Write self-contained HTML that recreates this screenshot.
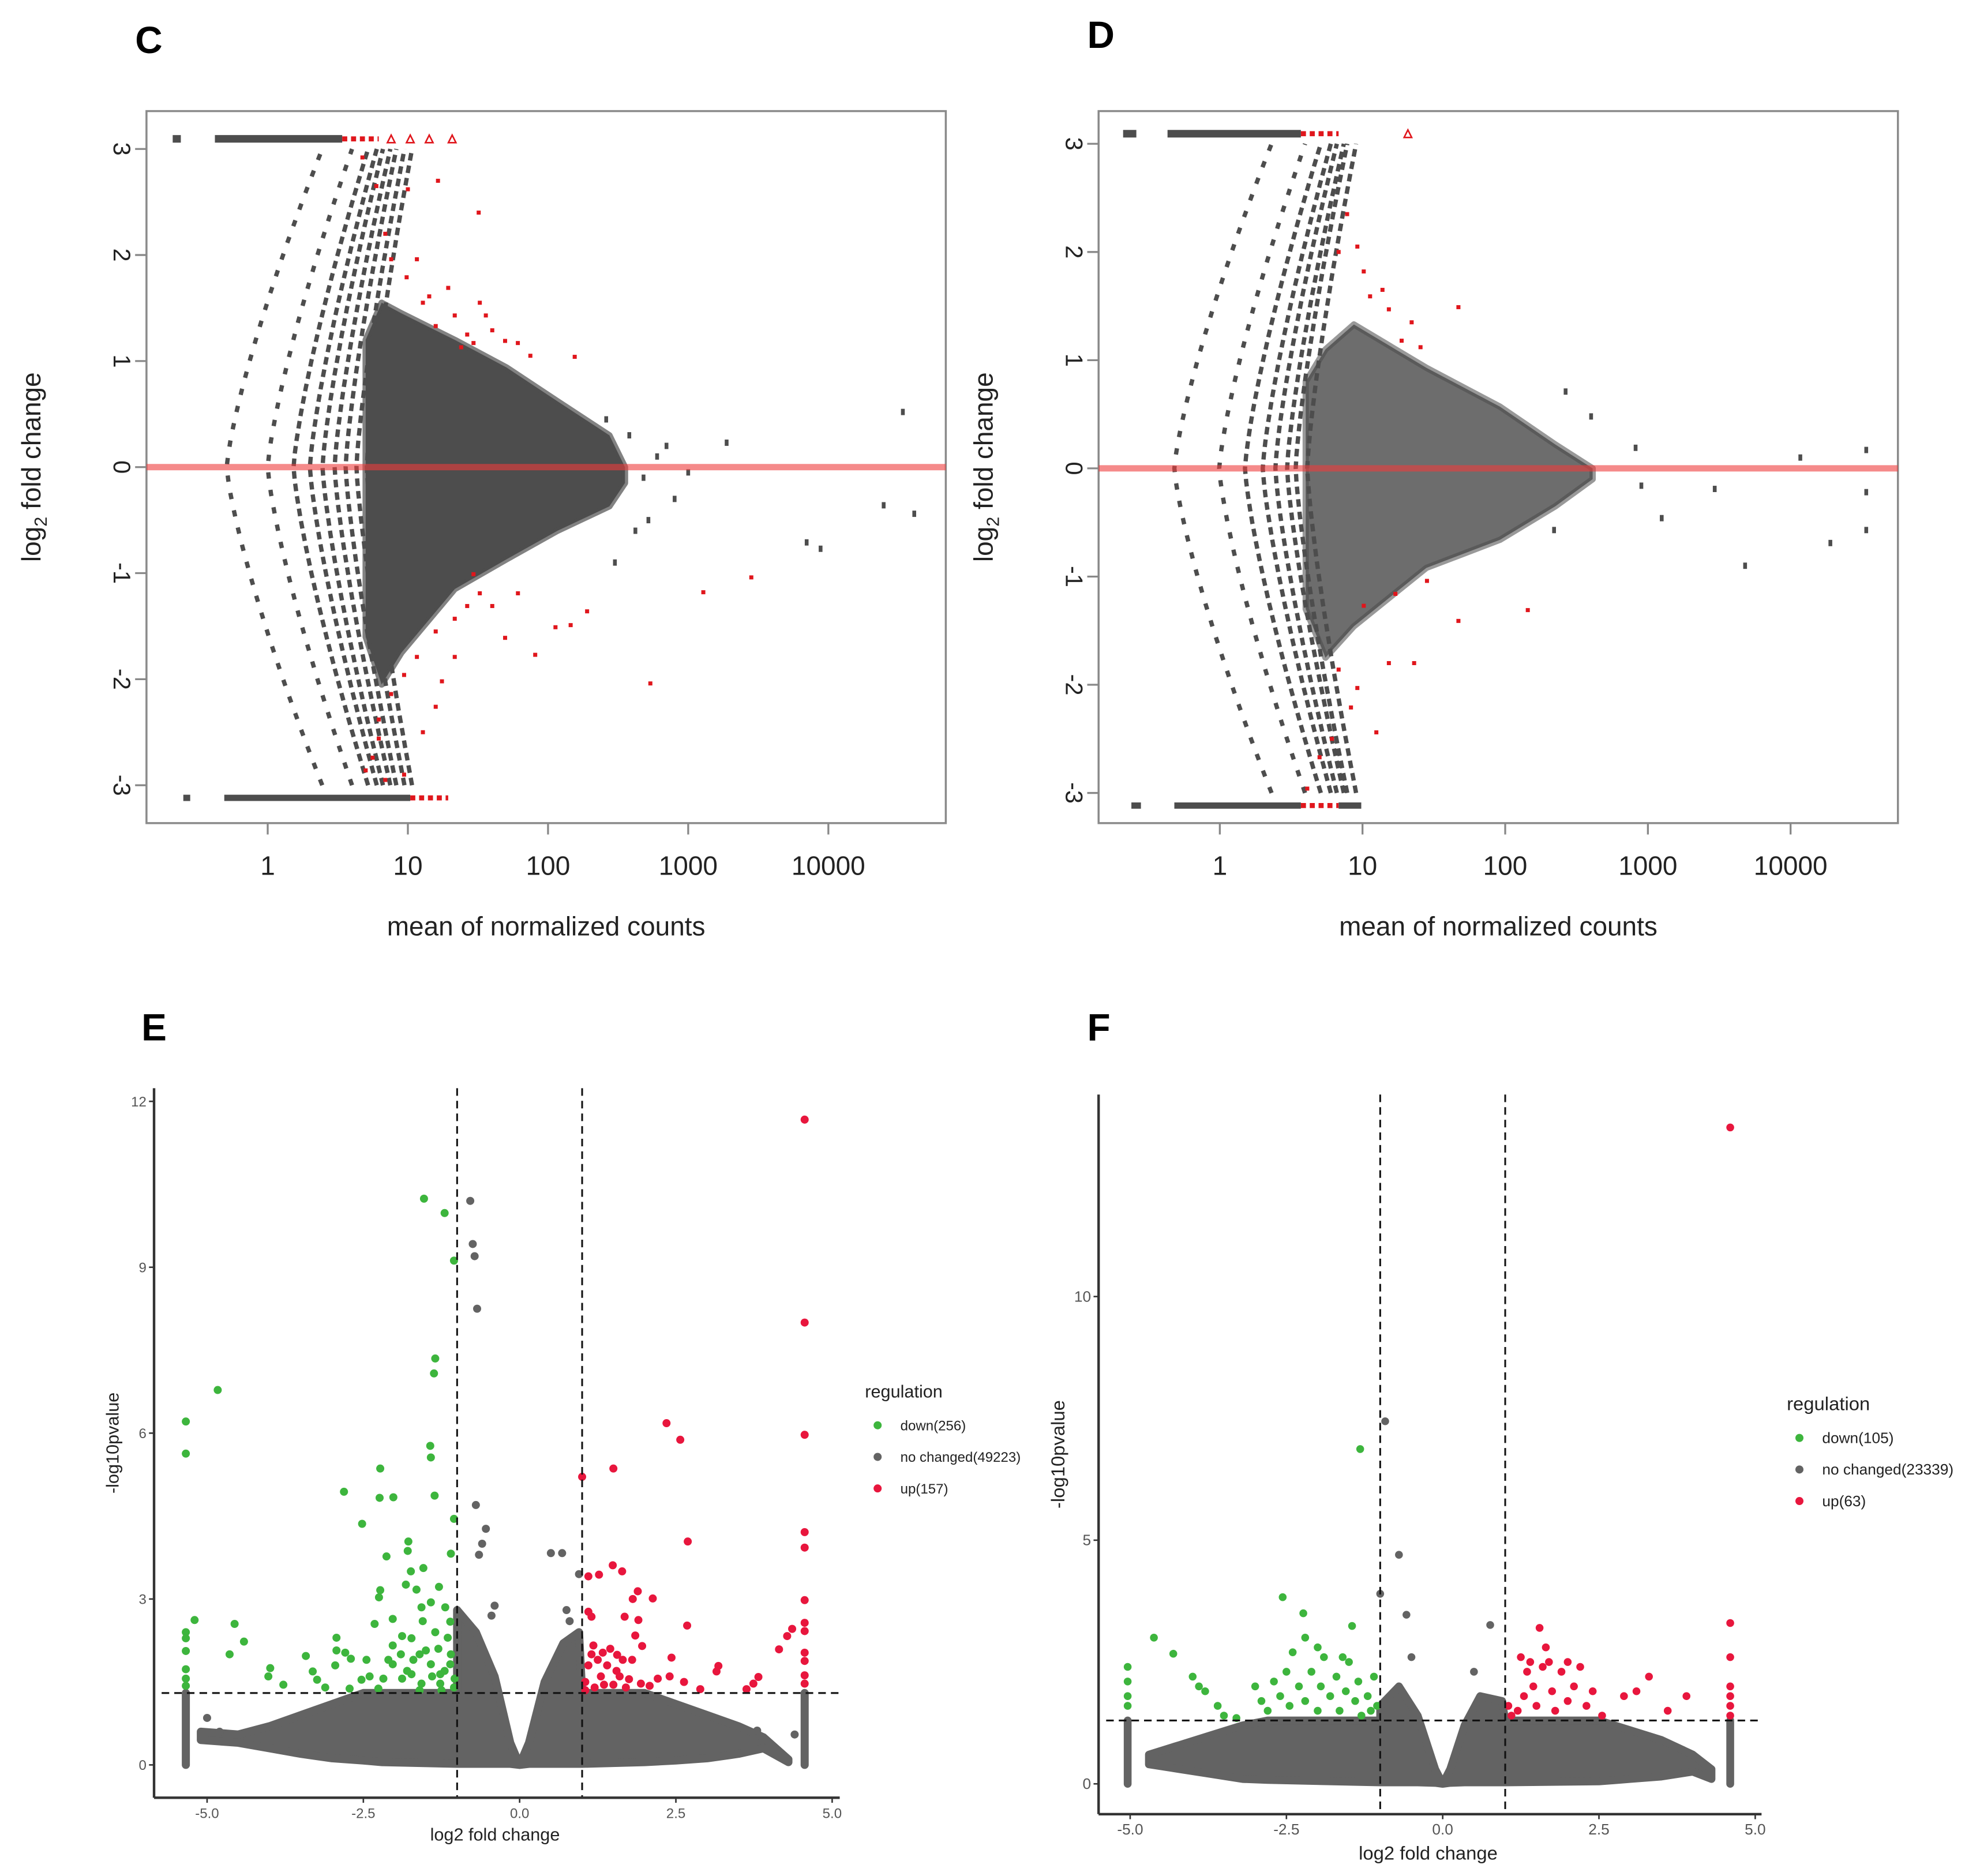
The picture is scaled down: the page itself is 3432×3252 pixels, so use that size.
<!DOCTYPE html>
<html><head><meta charset="utf-8"><style>
html,body{margin:0;padding:0;background:#fff;}
svg{display:block;}
text{font-family:"Liberation Sans",sans-serif;}
</style></head><body>
<svg id="fig" xmlns="http://www.w3.org/2000/svg" width="3432" height="3252" viewBox="0 0 1568 1486" preserveAspectRatio="none">
<rect width="1568" height="1486" fill="#fff"/>
<text x="107" y="42" font-size="30" font-weight="bold">C</text>
<text x="861" y="38" font-size="30" font-weight="bold">D</text>
<text x="112" y="824" font-size="30" font-weight="bold">E</text>
<text x="861" y="824" font-size="30" font-weight="bold">F</text>
<g id="pc"></g>
<g id="pd"></g>
<g id="pe"></g>
<g id="pf"></g>
</svg>
<script>
// ---------- MA plot C data ----------
const cEnvMean=[5.0,6.5,9,21.6,50.5,117,274,354];
const cEnvUp=[1.2,1.55,1.45,1.2,0.94,0.62,0.30,0.0];
const cEnvLow=[-1.6,-2.05,-1.75,-1.15,-0.87,-0.60,-0.37,-0.15];
const cStripes=[0.51,1.0,1.53,2.0,2.46,3.0,3.6,4.3,5.1];
const cStripeRatio=[4.8,4.0,3.4,3.0,2.7,2.5,2.3,2.2,2.1];
const cRedUpMean=[4.74,5.96,10,16.4,32,6.9,11.6,19.4,32.6,49.4,74.8,155,9.8,14.2,21.6,26.5,40,60.9,24,29.4,12.8,15.8,7.6,36];
const cRedUpLfc=[2.92,2.65,2.62,2.70,2.40,2.2,1.96,1.69,1.55,1.19,1.05,1.04,1.79,1.61,1.43,1.25,1.29,1.17,1.13,1.17,1.55,1.33,1.96,1.43];
const cRedLowMean=[537,1282,2820,190,145,81,113,49.4,32.6,26.5,21.6,15.8,11.6,9.4,7.6,6.2,6.2,5.6,5.0,6.9,9.4,15.8,21.6,40,61,29.4,17.5,12.8];
const cRedLowLfc=[-2.04,-1.18,-1.04,-1.36,-1.49,-1.77,-1.51,-1.61,-1.19,-1.31,-1.43,-1.55,-1.79,-1.96,-2.14,-2.38,-2.56,-2.74,-2.86,-2.95,-2.9,-2.26,-1.79,-1.31,-1.19,-1.01,-2.02,-2.5];
const cGreyMean=[34000,24800,41000,7000,8800,1880,1000,480,600,420,800,520,700,380,300,260];
const cGreyLfc=[0.52,-0.36,-0.44,-0.71,-0.77,0.23,-0.05,-0.1,0.1,-0.6,-0.3,-0.5,0.2,0.3,-0.9,0.45];
const cTopGrey=[[0.21,0.24],[0.42,3.4]], cTopRedSeg=[[3.4,6.2]], cTopRedPts=[7.6,10.4,14.2,20.7];
const cBotGrey=[[0.25,0.28],[0.49,10.4]], cBotRedSeg=[[10.4,19.4]];
const maXTicks=[1,10,100,1000,10000], maXTickLabels=["1","10","100","1000","10000"];
const maYTicks=[3,2,1,0,-1,-2,-3], maYTickLabels=["3","2","1","0","-1","-2","-3"];
// ---------- MA plot D data ----------
const dEnvMean=[4.0,5.5,8.7,28,92,225,410];
const dEnvUp=[0.8,1.1,1.33,0.93,0.57,0.22,0.0];
const dEnvLow=[-1.3,-1.75,-1.46,-0.92,-0.66,-0.35,-0.1];
const dStripes=[0.48,0.99,1.5,2.0,2.45,2.96,3.4,4.1];
const dStripeRatio=[4.8,4.0,3.4,3.0,2.7,2.5,2.3,2.2];
const dRedMean=[7.8,9.2,11.3,15.3,18.8,25.5,47,6.8,10.2,13.8,22.1,10.2,17,28.3,47,15.3,23,8.3,6.1,5.0,4.1,12.5,9.2,6.8,144];
const dRedLfc=[2.35,2.05,1.59,1.47,1.18,1.12,1.49,2.0,1.82,1.65,1.35,-1.27,-1.16,-1.04,-1.41,-1.8,-1.8,-2.21,-2.5,-2.67,-2.96,-2.44,-2.03,-1.86,-1.31];
const dGreyMean=[11700,33900,33900,19000,33900,4800,2940,1250,820,900,400,265,220];
const dGreyLfc=[0.1,0.17,-0.22,-0.69,-0.57,-0.9,-0.19,-0.46,0.19,-0.16,0.48,0.71,-0.57];
const dTopGrey=[[0.21,0.26],[0.43,3.7]], dTopRedSeg=[[3.7,6.8]], dTopRedPts=[20.8];
const dBotGrey=[[0.24,0.28],[0.48,3.7],[6.8,9.8]], dBotRedSeg=[[3.7,6.8]];
// ---------- Volcano E data ----------
const eEnvX=[-5.1,-4.5,-4,-3.5,-3,-2.5,-2.2,-1.0,-1.0,-0.7,-0.4,-0.15,0,0.15,0.4,0.7,0.95,1.0,2.0,2.5,3,3.5,3.9,4.3];
const eEnvUp=[0.6,0.55,0.7,0.9,1.1,1.3,1.3,1.3,2.8,2.4,1.6,0.4,0,0.4,1.5,2.2,2.4,1.3,1.3,1.1,0.9,0.7,0.5,0.1];
const eEnvLow=[0.45,0.4,0.3,0.2,0.12,0.08,0.05,0.02,0.02,0.02,0.02,0.02,0,0.02,0.02,0.02,0.02,0.02,0.05,0.08,0.12,0.2,0.3,0.05];
const eColX=[-5.34,4.56];
const eGreenX=[-1.53,-1.2,-1.05,-1.35,-1.37,-4.83,-5.34,-5.34,-1.43,-1.42,-2.23,-2.81,-2.24,-2.02,-1.36,-2.52,-1.05,-1.78,-1.79,-2.13,-1.1,-1.74,-1.54,-1.82,-2.23,-2.25,-1.65,-1.29,-5.2,-4.56,-4.41,-4.64,-5.34,-5.34,-5.34,-3.99,-4.02,-3.78,-3.42,-2.93,-2.93,-2.79,-2.7,-2.95,-3.31,-3.24,-3.11,-2.45,-2.53,-2.32,-2.03,-1.88,-1.73,-1.57,-1.42,-1.19,-1.11,-1.42,-1.27,-1.11,-1.73,-2.03,-2.18,-1.88,-1.57,-1.27,-1.04,-1.5,-2.03,-2.26,-2.72,-5.34,-5.34,-5.34,-1.6,-1.3,-1.15,-1.4,-1.7,-1.9,-1.2,-1.1,-1.35,-1.55,-1.8,-2.1,-2.4,-1.05,-1.25,-1.6];
const eGreenY=[10.24,9.98,9.12,7.35,7.08,6.78,6.21,5.63,5.77,5.56,5.36,4.94,4.83,4.84,4.87,4.36,4.45,4.04,3.87,3.77,3.82,3.5,3.56,3.26,3.16,3.03,3.17,3.22,2.62,2.55,2.23,2.0,2.4,2.29,2.06,1.75,1.6,1.45,1.97,2.3,2.07,2.03,1.92,1.8,1.69,1.54,1.4,1.9,1.54,2.55,2.64,2.33,2.29,2.85,2.94,2.85,2.59,1.82,1.64,1.82,1.64,1.82,1.56,1.56,1.47,1.47,1.56,2.07,2.16,1.38,1.38,1.73,1.56,1.43,2.0,2.1,2.3,1.6,1.9,2.0,1.7,2.0,2.4,2.6,1.7,1.9,1.6,1.4,1.35,1.35];
const eRedX=[4.56,4.56,4.56,2.35,2.57,1.5,1.0,4.56,4.56,2.69,1.49,1.64,1.27,1.1,1.89,2.13,1.81,4.56,1.1,1.15,1.68,1.9,2.68,4.56,4.56,4.36,4.28,4.15,1.85,1.96,2.43,4.56,4.56,4.56,4.56,3.18,3.15,3.82,3.74,3.63,2.89,2.63,2.4,2.21,2.08,1.94,1.8,1.56,1.33,1.18,1.05,1.1,1.2,1.3,1.4,1.5,1.6,1.7,1.25,1.45,1.15,1.35,1.55,1.75,1.05,1.65];
const eRedY=[11.67,8.0,5.97,6.18,5.88,5.36,5.21,4.21,3.93,4.04,3.61,3.5,3.44,3.41,3.14,3.01,3.0,2.98,2.77,2.68,2.68,2.62,2.52,2.57,2.42,2.46,2.33,2.09,2.34,2.15,1.94,2.03,1.88,1.62,1.47,1.79,1.69,1.59,1.47,1.37,1.37,1.5,1.6,1.56,1.43,1.47,1.9,1.99,2.03,2.16,1.5,1.8,1.4,1.6,1.8,1.45,1.6,1.4,1.9,2.1,2.0,1.45,1.7,1.55,1.35,1.9];
const eGreyX=[-0.79,-0.75,-0.72,-0.68,-0.7,-0.54,-0.6,-0.65,0.5,0.68,0.95,-0.45,-0.4,0.75,0.8,-5.0,-4.8,3.8,4.4];
const eGreyY=[10.2,9.42,9.2,8.25,4.7,4.27,4.0,3.8,3.83,3.83,3.45,2.7,2.88,2.8,2.6,0.85,0.6,0.62,0.55];
const eXTicks=[-5,-2.5,0,2.5,5], eXLabels=["-5.0","-2.5","0.0","2.5","5.0"];
const eYTicks=[0,3,6,9,12], eYLabels=["0","3","6","9","12"];
// ---------- Volcano F data ----------
const fEnvX=[-4.7,-4.2,-3.7,-3.2,-2.8,-1.0,-1.0,-0.7,-0.4,-0.12,0,0.12,0.35,0.6,0.95,1.0,2.5,3.0,3.5,4.0,4.3];
const fEnvUp=[0.6,0.8,1.0,1.2,1.3,1.3,1.6,2.0,1.4,0.3,0,0.3,1.2,1.8,1.7,1.3,1.3,1.1,0.9,0.6,0.3];
const fEnvLow=[0.4,0.3,0.2,0.1,0.08,0.03,0.03,0.03,0.03,0.02,0,0.02,0.03,0.03,0.03,0.03,0.05,0.1,0.15,0.25,0.1];
const fColX=[-5.04,4.6];
const fGreenX=[-1.32,-2.56,-2.23,-1.45,-4.62,-4.31,-5.04,-5.04,-5.04,-5.04,-2.2,-4.0,-3.9,-3.8,-3.6,-3.5,-3.3,-3.0,-2.9,-2.8,-2.7,-2.6,-2.5,-2.45,-2.3,-2.2,-2.1,-2.0,-1.95,-1.9,-1.8,-1.7,-1.65,-1.55,-1.5,-1.4,-1.35,-1.3,-1.2,-1.15,-1.1,-1.05,-2.4,-2.0,-1.6];
const fGreenY=[6.87,3.83,3.5,3.24,3.0,2.67,2.4,2.1,1.8,1.6,3.0,2.2,2.0,1.9,1.6,1.4,1.35,2.0,1.7,1.5,2.1,1.8,2.3,1.6,2.0,1.7,2.3,1.5,2.0,2.6,1.8,2.2,1.5,1.9,2.5,1.7,2.1,1.4,1.8,1.5,2.2,1.6,2.7,2.8,2.6];
const fRedX=[4.6,1.2,1.3,1.35,1.45,1.5,1.6,1.65,1.75,1.8,1.9,2.0,2.1,2.2,2.3,2.4,1.55,1.1,1.05,1.25,1.4,2.55,2.9,3.1,3.3,3.6,3.9,4.6,4.6,4.6,4.6,4.6,4.6,1.7,2.0];
const fRedY=[13.47,1.5,1.8,2.3,2.0,1.6,2.4,2.8,1.9,1.5,2.3,1.7,2.0,2.4,1.6,1.9,3.2,1.4,1.6,2.6,2.5,1.4,1.8,1.9,2.2,1.5,1.8,3.3,2.6,2.0,1.8,1.6,1.4,2.5,2.5];
const fGreyX=[-0.92,-0.7,-0.58,-1.0,0.76,-0.5,0.5];
const fGreyY=[7.44,4.7,3.47,3.9,3.26,2.6,2.3];
const fXTicks=[-5,-2.5,0,2.5,5], fXLabels=["-5.0","-2.5","0.0","2.5","5.0"];
const fYTicks=[0,5,10], fYLabels=["0","5","10"];

const NS="http://www.w3.org/2000/svg";
function mk(parent,tag,attrs){const e=document.createElementNS(NS,tag);for(const k in attrs)e.setAttribute(k,attrs[k]);parent.appendChild(e);return e;}
function txt(parent,x,y,s,size,anchor,rot){const e=mk(parent,'text',{x:x,y:y,'font-size':size,'text-anchor':anchor||'middle',fill:'#222'});if(rot)e.setAttribute('transform','rotate('+rot+' '+x+' '+y+')');e.textContent=s;return e;}

function drawMA(g,box,X,Y,env,stripes,ratios,redM,redL,greyM,greyL,rows,massOpacity){
  const grey='#4d4d4d', red='#e0161c';
  const r=mk(g,'rect',{x:box[0],y:box[1],width:box[2],height:box[3],fill:'none',stroke:'#8a8a8a','stroke-width':1.6});
  
  
  stripes.forEach((v,si)=>{
    let pts=[];
    for(let i=-24;i<=24;i++){const l=i/8;const m=v*Math.pow(ratios[si],Math.pow(Math.abs(l)/3,1.3));pts.push(X(m).toFixed(1)+','+Y(l).toFixed(1));}
    const p=mk(g,'polyline',{points:pts.join(' '),fill:'none',stroke:grey,'stroke-width':3.4,'stroke-dasharray':si<2?'5 9':'6 4'});
    
    
  });
  let pts=[];
  env[0].forEach((m,i)=>pts.push(X(m)+','+Y(env[1][i])));
  for(let i=env[0].length-1;i>=0;i--)pts.push(X(env[0][i])+','+Y(env[2][i]));
  const poly=mk(g,'polygon',{points:pts.join(' '),fill:grey,'fill-opacity':massOpacity,stroke:grey,'stroke-opacity':massOpacity*0.7,'stroke-width':5,'stroke-linejoin':'round'});
  
  
  greyM.forEach((m,i)=>{const e=mk(g,'rect',{x:X(m)-1.5,y:Y(greyL[i])-2.5,width:3,height:5,fill:grey});
    
    });
  redM.forEach((m,i)=>{const e=mk(g,'rect',{x:X(m)-1.6,y:Y(redL[i])-1.6,width:3.2,height:3.2,fill:red});
    
    });
  const yt=Y(3)-8, yb=Y(-3)+10;
  rows.topGrey.forEach(s=>{const e=mk(g,'line',{x1:X(s[0]),x2:X(s[1]),y1:yt,y2:yt,stroke:grey,'stroke-width':6});
    
    });
  rows.topRed.forEach(s=>{const e=mk(g,'line',{x1:X(s[0]),x2:X(s[1]),y1:yt,y2:yt,stroke:red,'stroke-width':4,'stroke-dasharray':'4 3'});
    
    });
  rows.topRedPts.forEach(m=>{const e=mk(g,'polygon',{points:(X(m)-3)+','+(yt+3)+' '+(X(m)+3)+','+(yt+3)+' '+X(m)+','+(yt-3),fill:'none',stroke:red,'stroke-width':1.2});
    
    });
  rows.botGrey.forEach(s=>{const e=mk(g,'line',{x1:X(s[0]),x2:X(s[1]),y1:yb,y2:yb,stroke:grey,'stroke-width':5});
    
    });
  rows.botRed.forEach(s=>{const e=mk(g,'line',{x1:X(s[0]),x2:X(s[1]),y1:yb,y2:yb,stroke:red,'stroke-width':4,'stroke-dasharray':'4 3'});
    
    });
  const zl=mk(g,'line',{x1:box[0],x2:box[0]+box[2],y1:Y(0),y2:Y(0),stroke:'rgba(238,60,60,0.6)','stroke-width':5});
  
  
  const by=box[1]+box[3];
  maXTicks.forEach((t,i)=>{const tk=mk(g,'line',{x1:X(t),x2:X(t),y1:by,y2:by+9,stroke:'#888','stroke-width':1.5});
    
    
    const l=txt(g,X(t),by+41,maXTickLabels[i],21);
    
    });
  maYTicks.forEach((t,i)=>{const tk=mk(g,'line',{x1:box[0]-9,x2:box[0],y1:Y(t),y2:Y(t),stroke:'#888','stroke-width':1.5});
    
    
    const l=txt(g,box[0]-26,Y(t),maYTickLabels[i],19,'middle',90);
    
    });
  const xt=txt(g,box[0]+box[2]/2,by+89,'mean of normalized counts',21);
  
  
  const ya=mk(g,'text',{x:box[0]-84,y:box[1]+282,'font-size':21,'text-anchor':'middle',fill:'#222',transform:'rotate(-90 '+(box[0]-84)+' '+(box[1]+282)+')'});
  ya.innerHTML='log<tspan font-size="14" dy="5">2</tspan><tspan dy="-5"> fold change</tspan>';
  
  
}
const Xc=m=>212+111*Math.log10(m), Yc=l=>370-84*l;
drawMA(document.getElementById('pc'),[116,88,633,564],Xc,Yc,[cEnvMean,cEnvUp,cEnvLow],cStripes,cStripeRatio,
  cRedUpMean.concat(cRedLowMean),cRedUpLfc.concat(cRedLowLfc),cGreyMean,cGreyLfc,
  {topGrey:cTopGrey,topRed:cTopRedSeg,topRedPts:cTopRedPts,botGrey:cBotGrey,botRed:cBotRedSeg},1);
const Xd=m=>966+113*Math.log10(m), Yd=l=>371-85.7*l;
drawMA(document.getElementById('pd'),[870,88,633,564],Xd,Yd,[dEnvMean,dEnvUp,dEnvLow],dStripes,dStripeRatio,
  dRedMean,dRedLfc,dGreyMean,dGreyLfc,
  {topGrey:dTopGrey,topRed:dTopRedSeg,topRedPts:dTopRedPts,botGrey:dBotGrey,botRed:dBotRedSeg},0.82);

function drawVolcano(g,X,Y,ax,env,cols,gx,gy,rx,ry,ox,oy,ticks,counts,leg,fs,rad){
  const grey='#636363', green='#3db53d', red='#e8163d';
  let pts=[];
  env[0].forEach((x,i)=>pts.push(X(x)+','+Y(env[1][i])));
  for(let i=env[0].length-1;i>=0;i--)pts.push(X(env[0][i])+','+Y(env[2][i]));
  const poly=mk(g,'polygon',{points:pts.join(' '),fill:grey,stroke:grey,'stroke-width':rad*2,'stroke-linejoin':'round'});
  
  
  cols.forEach(c=>{const e=mk(g,'line',{x1:X(c),x2:X(c),y1:Y(0),y2:Y(1.3),stroke:grey,'stroke-width':rad*2,'stroke-linecap':'round'});
    
    });
  ox.forEach((x,i)=>{const e=mk(g,'circle',{cx:X(x),cy:Y(oy[i]),r:rad,fill:grey});
    
    });
  gx.forEach((x,i)=>{const e=mk(g,'circle',{cx:X(x),cy:Y(gy[i]),r:rad,fill:green});
    
    });
  rx.forEach((x,i)=>{const e=mk(g,'circle',{cx:X(x),cy:Y(ry[i]),r:rad,fill:red});
    
    });
  [-1,1].forEach(v=>{const e=mk(g,'line',{x1:X(v),x2:X(v),y1:ax.top,y2:ax.bottom,stroke:'#111','stroke-width':1.4,'stroke-dasharray':'6 4'});
    
    });
  const h=mk(g,'line',{x1:ax.left+6,x2:ax.right,y1:Y(1.3),y2:Y(1.3),stroke:'#111','stroke-width':1.4,'stroke-dasharray':'6 4'});
  
  
  const la=mk(g,'line',{x1:ax.left,x2:ax.left,y1:ax.top,y2:ax.bottom,stroke:'#333','stroke-width':2});
  
  
  const ba=mk(g,'line',{x1:ax.left,x2:ax.right,y1:ax.bottom,y2:ax.bottom,stroke:'#333','stroke-width':2});
  
  
  ticks.x.forEach((t,i)=>{const tk=mk(g,'line',{x1:X(t),x2:X(t),y1:ax.bottom,y2:ax.bottom+4,stroke:'#333','stroke-width':1.2});
    
    
    const l=txt(g,X(t),ax.bottom+16,ticks.xl[i],fs);l.setAttribute('fill','#555');
    
    });
  ticks.y.forEach((t,i)=>{const tk=mk(g,'line',{x1:ax.left-4,x2:ax.left,y1:Y(t),y2:Y(t),stroke:'#333','stroke-width':1.2});
    
    
    const l=txt(g,ax.left-6,Y(t)+4,ticks.yl[i],fs,'end');l.setAttribute('fill','#555');
    
    });
  const xt=txt(g,ax.xtx,ax.xty,'log2 fold change',ax.tfs);
  
  
  const yt=txt(g,ax.ytx,ax.yty,'-log10pvalue',ax.tfs,'middle',-90);
  
  
  const lg=mk(g,'g',{});
  
  
  const lt=txt(lg,leg.x,leg.y,'regulation',ax.tfs,'start');
  
  
  const lc=[green,grey,red];
  const names=['down('+counts[0]+')','no changed('+counts[1]+')','up('+counts[2]+')'];
  names.forEach((n,i)=>{const y=leg.y+leg.d0+i*leg.d;
    const c=mk(lg,'circle',{cx:leg.x+10,cy:y,r:3.2,fill:lc[i]});
    
    
    const t=txt(lg,leg.x+28,y+4,n,leg.fs,'start');
    
    });
}
const eCounts=[256,49223,157], fCounts=[105,23339,63];
const Xe=v=>411.5+49.5*v, Ye=v=>1398-43.8*v;
drawVolcano(document.getElementById('pe'),Xe,Ye,{left:122,right:665,top:862,bottom:1424,xtx:392,xty:1458,ytx:94,yty:1143,tfs:14},
  [eEnvX,eEnvUp,eEnvLow],eColX,eGreenX,eGreenY,eRedX,eRedY,eGreyX,eGreyY,
  {x:eXTicks,xl:eXLabels,y:eYTicks,yl:eYLabels},eCounts,{x:685,y:1107,d0:22,d:25,fs:11},11,3.2);
const Xf=v=>1142.5+49.5*v, Yf=v=>1413-38.6*v;
drawVolcano(document.getElementById('pf'),Xf,Yf,{left:870,right:1395,top:867,bottom:1437,xtx:1131,xty:1473,ytx:843,yty:1152,tfs:15},
  [fEnvX,fEnvUp,fEnvLow],fColX,fGreenX,fGreenY,fRedX,fRedY,fGreyX,fGreyY,
  {x:fXTicks,xl:fXLabels,y:fYTicks,yl:fYLabels},fCounts,{x:1415,y:1117,d0:22,d:25,fs:12},12,3.1);
</script>
</body></html>
